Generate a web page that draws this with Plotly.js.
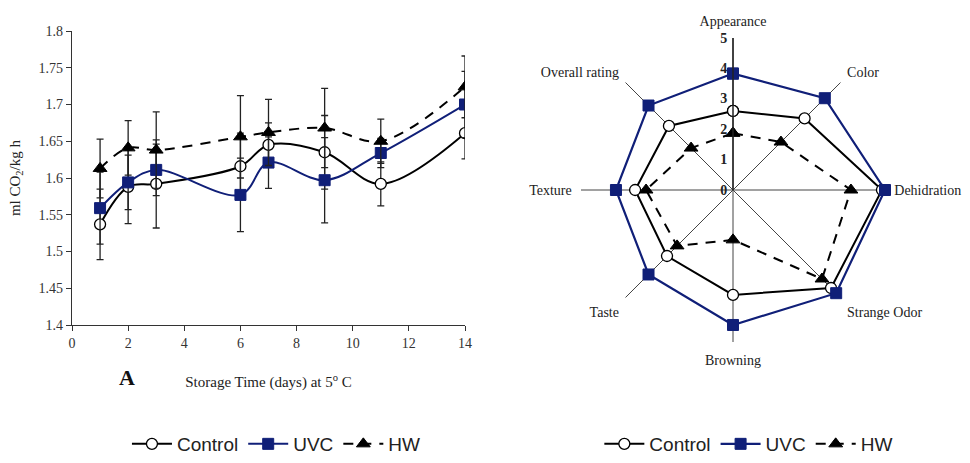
<!DOCTYPE html>
<html>
<head>
<meta charset="utf-8">
<script src="https://cdn.plot.ly/plotly-3.0.1.min.js"></script>
<style>
html,body{margin:0;padding:0;background:#fff;}
#chart{width:970px;height:463px;}
</style>
</head>
<body>
<div id="chart"></div>
<script>
// ---- Respiration rate data (left panel) ----
const days = [1, 2, 3, 6, 7, 9, 11, 14];
const controlResp = [1.537, 1.588, 1.592, 1.616, 1.645, 1.635, 1.592, 1.661];
const uvcResp     = [1.559, 1.594, 1.611, 1.577, 1.621, 1.597, 1.634, 1.700];
const hwResp      = [1.613, 1.641, 1.638, 1.656, 1.662, 1.668, 1.650, 1.724];
const controlErr  = [0.048, 0.050, 0.060, 0.045, 0.030, 0.050, 0.030, 0.035];
const uvcErr      = [0.049, 0.037, 0.035, 0.050, 0.035, 0.058, 0.020, 0.045];
const hwErr       = [0.040, 0.037, 0.052, 0.056, 0.045, 0.054, 0.030, 0.042];
const yTickVals   = [1.4, 1.45, 1.5, 1.55, 1.6, 1.65, 1.7, 1.75, 1.8];
const yTickText   = ["1.4", "1.45", "1.5", "1.55", "1.6", "1.65", "1.7", "1.75", "1.8"];
const xTickVals   = [0, 2, 4, 6, 8, 10, 12, 14];

// ---- Sensory data (right panel) ----
const attributes  = ["Appearance", "Color", "Dehidration", "Strange Odor", "Browning", "Taste", "Texture", "Overall rating"];
const controlSens = [2.60, 3.33, 4.90, 4.56, 3.45, 3.07, 3.22, 2.98];
const uvcSens     = [3.83, 4.27, 5.00, 4.80, 4.44, 3.93, 3.85, 3.93];
const hwSens      = [1.87, 2.23, 3.88, 4.14, 1.64, 2.60, 2.86, 1.95];
const radialTicks = [0, 1, 2, 3, 4, 5];
const seriesNames = ["Control", "UVC", "HW"];

const NAVY = "#101f78";
const serif = "Liberation Serif, Times New Roman, serif";
const sans = "Liberation Sans, Arial, sans-serif";

const close = a => a.concat([a[0]]);

const errStyle = v => ({type: "data", array: v, visible: true, color: "#222", thickness: 1.3, width: 3.5});

const styles = [
  {line: {color: "#000", width: 2, shape: "spline", smoothing: 1},
   marker: {symbol: "circle", size: 11, color: "#fff", line: {color: "#000", width: 1.3}}},
  {line: {color: NAVY, width: 2, shape: "spline", smoothing: 1},
   marker: {symbol: "square", size: 11, color: NAVY, line: {color: NAVY, width: 1}}},
  {line: {color: "#000", width: 2, dash: "10px,8px", shape: "spline", smoothing: 1},
   marker: {symbol: "triangle-up", size: 12, color: "#000", line: {color: "#000", width: 1}}}
];
const respY = [controlResp, uvcResp, hwResp];
const respE = [controlErr, uvcErr, hwErr];
const sensR = [controlSens, uvcSens, hwSens];

const traces = [];
for (let i = 0; i < 3; i++) {
  traces.push({
    type: "scatter", mode: "lines+markers", name: seriesNames[i],
    x: days, y: respY[i], error_y: errStyle(respE[i]),
    line: styles[i].line, marker: styles[i].marker,
    xaxis: "x", yaxis: "y", legend: "legend"
  });
}
const polarStyles = [
  {line: {color: "#000", width: 2}, marker: styles[0].marker},
  {line: {color: NAVY, width: 2.2}, marker: styles[1].marker},
  {line: {color: "#000", width: 2, dash: "10px,8px"}, marker: styles[2].marker}
];
for (let i = 0; i < 3; i++) {
  traces.push({
    type: "scatterpolar", mode: "lines+markers", name: seriesNames[i],
    r: close(sensR[i]), theta: close(attributes),
    line: polarStyles[i].line, marker: polarStyles[i].marker,
    subplot: "polar", legend: "legend2"
  });
}

const layout = {
  width: 970, height: 463,
  margin: {l: 0, r: 0, t: 0, b: 0},
  paper_bgcolor: "#fff", plot_bgcolor: "#fff",
  font: {family: serif, color: "#222"},
  xaxis: {
    domain: [72/970, 465/970], range: [0, 14], tickvals: xTickVals,
    ticks: "outside", ticklen: 5, tickcolor: "#333", showline: true, linecolor: "#333", linewidth: 1.3,
    showgrid: false, zeroline: false, tickfont: {family: serif, size: 14, color: "#333"},
    title: {text: "Storage Time (days) at 5<sup>o</sup> C", font: {family: serif, size: 15, color: "#222"}, standoff: 26}
  },
  yaxis: {
    domain: [(463-325)/463, (463-31)/463], range: [1.4, 1.8], tickvals: yTickVals, ticktext: yTickText,
    ticks: "outside", ticklen: 5, tickcolor: "#333", showline: true, linecolor: "#333", linewidth: 1.3,
    showgrid: false, zeroline: false, tickfont: {family: serif, size: 14, color: "#333"},
    title: {text: "ml CO<sub>2</sub>/kg h", font: {family: serif, size: 15, color: "#222"}, standoff: 14}
  },
  polar: {
    domain: {x: [581/970, 885/970], y: [(463-342)/463, (463-38)/463]},
    bgcolor: "rgba(0,0,0,0)",
    radialaxis: {
      range: [0, 5], tickvals: radialTicks, angle: 90, tickangle: 90, side: "counterclockwise",
      showline: true, linecolor: "#222", linewidth: 1.5, showgrid: false, ticks: "",
      tickfont: {family: serif, size: 14, color: "#222", weight: "bold"}
    },
    angularaxis: {
      direction: "clockwise", rotation: 90, showline: false,
      ticks: "outside", ticklen: 6, tickcolor: "rgba(0,0,0,0)",
      showgrid: true, gridcolor: "#444", gridwidth: 1,
      tickfont: {family: serif, size: 14, color: "#222"}
    }
  },
  showlegend: true,
  legend: {
    orientation: "h", x: 0.285, xanchor: "center", y: 0, yanchor: "bottom",
    font: {family: sans, size: 19, color: "#222"}, bgcolor: "rgba(0,0,0,0)", itemwidth: 40
  },
  legend2: {
    orientation: "h", x: 0.772, xanchor: "center", y: 0, yanchor: "bottom",
    font: {family: sans, size: 19, color: "#222"}, bgcolor: "rgba(0,0,0,0)", itemwidth: 40
  },
  annotations: [
    {text: "<b>A</b>", x: 117/970, y: (463-392)/463, xref: "paper", yref: "paper",
     showarrow: false, font: {family: serif, size: 22, color: "#111"}}
  ]
};

Plotly.newPlot("chart", traces, layout, {displayModeBar: false, staticPlot: true});
</script>
</body>
</html>
